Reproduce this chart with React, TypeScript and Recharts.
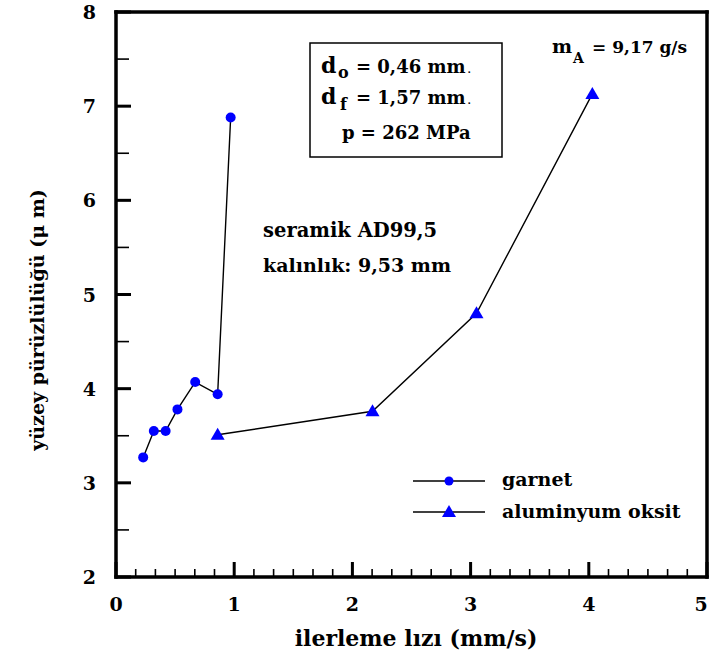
import React from 'react';
import { ComposedChart, Line, XAxis, YAxis } from 'recharts';

// ---- data ----
const garnetX = [0.23, 0.32, 0.42, 0.52, 0.67, 0.86, 0.97];
const garnetY = [3.27, 3.55, 3.55, 3.78, 4.07, 3.94, 6.88];
const aluminaX = [0.86, 2.17, 3.05, 4.03];
const aluminaY = [3.51, 3.76, 4.8, 7.13];
const xTickLabels = [0, 1, 2, 3, 4, 5];
const yTickLabels = [2, 3, 4, 5, 6, 7, 8];
const xMinorPerUnit = 6;
const yMinorPerUnit = 2;

const garnetData = garnetX.map((x, i) => ({ x, y: garnetY[i] }));
const aluminaData = aluminaX.map((x, i) => ({ x, y: aluminaY[i] }));

const buildTicks = (labels: number[], per: number) => {
  const out: number[] = [];
  labels.forEach((v, i) => {
    if (i < labels.length - 1) {
      for (let j = 0; j < per; j++) out.push(+(v + j / per).toFixed(6));
    } else out.push(v);
  });
  return out;
};
const xTicks = buildTicks(xTickLabels, xMinorPerUnit);
const yTicks = buildTicks(yTickLabels, yMinorPerUnit);

const FONT = "'DejaVu Serif', 'Liberation Serif', serif";
const BLUE = '#0000ff';
const W = 711;
const H = 660;
// plot frame (pixels) – chart margins below reproduce it
const PL = 116, PT = 12, PR = 707, PB = 577;
const FW = 3.5; // frame thickness

const isInt = (v: number) => Math.abs(v - Math.round(v)) < 1e-6;

const XTick = (props: any) => {
  const { x, y, payload } = props;
  const v = payload.value;
  const major = isInt(v);
  const last = Math.abs(v - xTickLabels[xTickLabels.length - 1]) < 1e-6;
  const len = major ? 15 : 8;
  const w = major ? 3 : 1.6;
  return (
    <g>
      <rect x={x - w / 2} y={y - len} width={w} height={len} fill="#000" />
      {major && (
        <text x={x + (last ? -6 : 0)} y={y + 34} textAnchor="middle" fontFamily={FONT} fontWeight="bold" fontSize={19} fill="#000">
          {Math.round(v)}
        </text>
      )}
    </g>
  );
};

const YTick = (props: any) => {
  const { x, y, payload } = props;
  const v = payload.value;
  const major = isInt(v);
  const len = major ? 15 : 13;
  const w = major ? 3 : 1.6;
  return (
    <g>
      <rect x={x} y={y - w / 2} width={len} height={w} fill="#000" />
      {major && (
        <text x={x - 20} y={y} textAnchor="end" dominantBaseline="central" fontFamily={FONT} fontWeight="bold" fontSize={19} fill="#000">
          {Math.round(v)}
        </text>
      )}
    </g>
  );
};

const CircleDot = (props: any) => {
  const { cx, cy, index } = props;
  if (cx == null || cy == null) return <g key={index} />;
  return <circle key={index} cx={cx} cy={cy} r={5} fill={BLUE} stroke="none" />;
};

const TriDot = (props: any) => {
  const { cx, cy, index } = props;
  if (cx == null || cy == null) return <g key={index} />;
  return (
    <polygon
      key={index}
      points={`${cx},${cy - 7} ${cx - 7},${cy + 5} ${cx + 7},${cy + 5}`}
      fill={BLUE}
      stroke="none"
    />
  );
};

export default function App() {
  const txt = { fontFamily: FONT, fontWeight: 'bold' as const, fill: '#000' };
  return (
    <div style={{ position: 'absolute', left: 0, top: 0, width: W, height: H, background: '#fff' }}>
      <ComposedChart width={W} height={H} margin={{ top: PT, right: W - PR, bottom: 0, left: 0 }}>
        <XAxis
          dataKey="x"
          type="number"
          domain={[0, 5]}
          ticks={xTicks}
          interval={0}
          tickSize={0}
          tickMargin={0}
          tickLine={false}
          tick={<XTick />}
          axisLine={false}
          height={H - PB}
          allowDataOverflow
        />
        <YAxis
          type="number"
          domain={[2, 8]}
          ticks={yTicks}
          interval={0}
          tickSize={0}
          tickMargin={0}
          tickLine={false}
          tick={<YTick />}
          axisLine={false}
          width={PL}
          allowDataOverflow
        />
        <Line
          data={garnetData}
          dataKey="y"
          name="garnet"
          type="linear"
          stroke="#000"
          strokeWidth={1.4}
          dot={<CircleDot />}
          activeDot={false}
          isAnimationActive={false}
        />
        <Line
          data={aluminaData}
          dataKey="y"
          name="aluminyum oksit"
          type="linear"
          stroke="#000"
          strokeWidth={1.4}
          dot={<TriDot />}
          activeDot={false}
          isAnimationActive={false}
        />
      </ComposedChart>
      <svg width={W} height={H} style={{ position: 'absolute', left: 0, top: 0, pointerEvents: 'none' }}>
        {/* plot frame as four filled bars */}
        <rect x={PL - FW / 2} y={PT - FW / 2} width={PR - PL + FW} height={FW} fill="#000" />
        <rect x={PL - FW / 2} y={PB - FW / 2} width={PR - PL + FW} height={FW} fill="#000" />
        <rect x={PL - FW / 2} y={PT - FW / 2} width={FW} height={PB - PT + FW} fill="#000" />
        <rect x={PR - FW / 2} y={PT - FW / 2} width={FW} height={PB - PT + FW} fill="#000" />
        {/* axis titles */}
        <text transform="translate(44,320) rotate(-90)" textAnchor="middle" fontSize={19} {...txt}>
          yüzey pürüzlülüğü (μ m)
        </text>
        <text x={416} y={646} textAnchor="middle" fontSize={22} {...txt}>
          ilerleme lızı (mm/s)
        </text>
        {/* parameter box */}
        <rect x={310} y={43} width={192} height={114} fill="none" stroke="#000" strokeWidth={1.5} />
        <text fontSize={18} {...txt}>
          <tspan x={321} y={73} fontSize={22}>d</tspan>
          <tspan x={338} y={78} fontSize={16}>o</tspan>
          <tspan x={356} y={73}>= 0,46 mm</tspan>
          <tspan dx={2} fontSize={10}>.</tspan>
        </text>
        <text fontSize={18} {...txt}>
          <tspan x={321} y={104} fontSize={22}>d</tspan>
          <tspan x={340} y={110} fontSize={16}>f</tspan>
          <tspan x={356} y={104}>= 1,57 mm</tspan>
          <tspan dx={2} fontSize={10}>.</tspan>
        </text>
        <text x={342} y={139} fontSize={18} {...txt}>
          p = 262 MPa
        </text>
        {/* flow rate */}
        <text fontSize={17} {...txt}>
          <tspan x={552} y={53} fontSize={19}>m</tspan>
          <tspan x={573} y={63} fontSize={14}>A</tspan>
          <tspan x={592} y={53}>= 9,17 g/s</tspan>
        </text>
        {/* material */}
        <text x={263} y={237} fontSize={19.5} {...txt}>
          seramik AD99,5
        </text>
        <text x={263} y={272} fontSize={19} {...txt}>
          kalınlık: 9,53 mm
        </text>
        {/* legend */}
        <line x1={413} x2={485} y1={481} y2={481} stroke="#000" strokeWidth={1.4} />
        <circle cx={449} cy={481} r={4.5} fill={BLUE} />
        <text x={502} y={486} fontSize={19} {...txt}>
          garnet
        </text>
        <line x1={413} x2={485} y1={512} y2={512} stroke="#000" strokeWidth={1.4} />
        <polygon points="449,505 442,517 456,517" fill={BLUE} />
        <text x={502} y={518} fontSize={19} {...txt}>
          aluminyum oksit
        </text>
      </svg>
    </div>
  );
}
